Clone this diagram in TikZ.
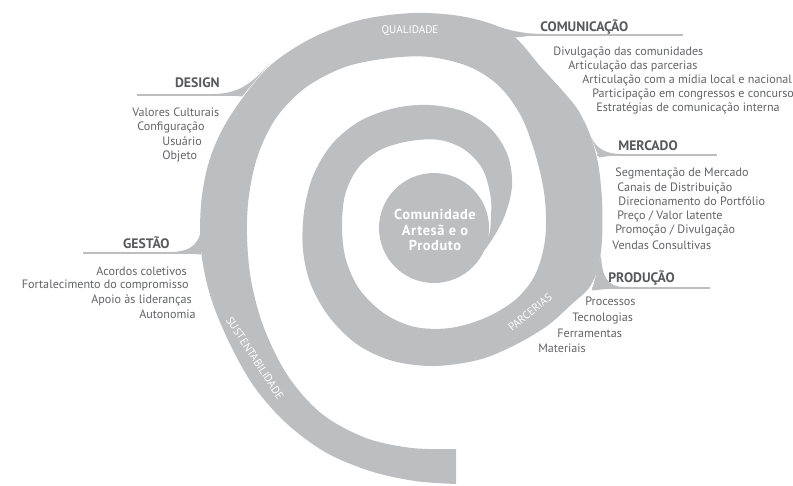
\documentclass[tikz,border=0pt]{standalone}
\usepackage{fontspec}
\setmainfont{PT Sans}
\usetikzlibrary{positioning}
\definecolor{bandgray}{RGB}{189,190,192}
\definecolor{textgray}{RGB}{88,89,91}
\definecolor{itemgray}{RGB}{98,99,101}

\begin{document}
\begin{tikzpicture}[x=0.02cm,y=-0.02cm,
    item/.style={text=itemgray,font=\fontsize{6.9}{8}\selectfont,inner sep=0pt},
    head/.style={text=textgray,font=\fontsize{7.8}{9}\selectfont\bfseries,inner sep=0pt},
    bandtext/.style={text=white,font=\fontsize{6.3}{7}\selectfont,inner sep=0pt},
    bar/.style={bandgray,line width=1.4pt}]

\useasboundingbox (0,0) rectangle (793,485);

% the spiral
\fill [bandgray] (456,484) -- plot [smooth,tension=0.55] coordinates {
    (456,484) (415,481) (370,471) (325,452) (285,422) (253,385) (228,340)
    (210,295) (201,250) (201,205) (208,165) (222,130) (244,96) (272,64)
    (312,38) (360,20) (413,13) (460,16) (497,26) (518,40) (540,66) (561,89)
    (578,110) (590,135) (598,163) (602,200) (602,240) (598,268) (589,288)
    (573,303) (547,326) (513,346) (478,360) (434,366) (393,361) (358,345)
    (330,318) (311,285) (303,250) (304,212) (313,176) (332,144) (360,121)
    (395,108) (430,105) (465,112) (492,130) (508,156) (512,186) (505,215)
    (493,238) (480,256)}
  -- plot [smooth,tension=0.55] coordinates {
    (490,232) (491,200) (483,170) (465,150) (440,140) (410,141) (380,150)
    (358,168) (345,195) (342,228) (346,260) (360,290) (385,314) (415,327)
    (450,328) (485,318) (515,300) (535,275) (545,240) (545,200) (537,160)
    (522,118) (500,87) (470,67) (430,57) (390,58) (345,67) (305,88)
    (276,118) (258,155) (249,195) (247,235) (251,280) (264,328) (288,376)
    (322,414) (366,438) (412,448) (456,449)}
  -- cycle;
\fill [bandgray] (434,228) circle [radius=55];

% little bars and their flares
\draw [bar] (137,95) -- (240,95);
\fill [bandgray] (270,63) .. controls (250,86) and (236,94) .. (212,94) -- (242,96.5) -- cycle;
\draw [bar] (83,253) -- (199,253);
\fill [bandgray] (202,222) .. controls (201,242) and (193,252) .. (170,252) -- (201,254.5) -- cycle;
\draw [bar] (512,35) -- (683,35);
\fill [bandgray] (478,20) .. controls (500,27) and (515,34) .. (545,34) -- (516,37.5) -- cycle;
\draw [bar] (597,155) -- (717,155);
\fill [bandgray] (584,120) .. controls (592,145) and (600,154) .. (622,154) -- (599,157.5) -- cycle;
\draw [bar] (592,288) -- (710,288);
\fill [bandgray] (601,255) .. controls (602,278) and (608,287) .. (625,287) -- (592,290.5) -- cycle;

% words on the band
\node [bandtext] (qualidade) at (410,31) {QUALIDADE};
\node [bandtext,rotate=-57] (sustentabilidade) at (255,358) {SUSTENTABILIDADE};
\node [bandtext,rotate=39] (parcerias) at (530,312) {PARCERIAS};
\node [text=white,font=\fontsize{8.2}{8.6}\selectfont\bfseries\addfontfeatures{LetterSpace=4},
       align=center] (core) at (435,230) {Comunidade\\Artesã e o\\Produto};

% headings
\node [head,anchor=base east] (design) at (220,87) {DESIGN};
\node [head,anchor=base east] (gestao) at (170,248) {GESTÃO};
\node [head,anchor=base west] (comunicacao) at (540,31) {COMUNICAÇÃO};
\node [head,anchor=base west] (mercado) at (618,150) {MERCADO};
\node [head,anchor=base west] (producao) at (608,282) {PRODUÇÃO};

% some text
\node [item,anchor=base west] (des1) at (132,116) {Valores Culturais};
\node [item,anchor=base west] (des2) at (137,130) {Configuração};
\node [item,anchor=base west] (des3) at (162,145) {Usuário};
\node [item,anchor=base west] (des4) at (162,159) {Objeto};

\node [item,anchor=base east] (ges1) at (187,275) {Acordos coletivos};
\node [item,anchor=base east] (ges2) at (189,288) {Fortalecimento do compromisso};
\node [item,anchor=base east] (ges3) at (192,303) {Apoio às lideranças};
\node [item,anchor=base east] (ges4) at (196,318) {Autonomia};

\node [item,anchor=base west] (com1) at (553,55) {Divulgação das comunidades};
\node [item,anchor=base west] (com2) at (568,69) {Articulação das parcerias};
\node [item,anchor=base west] (com3) at (582,83) {Articulação com a mídia local e nacional};
\node [item,anchor=base west] (com4) at (592,97) {Participação em congressos e concurso};
\node [item,anchor=base west] (com5) at (596,111) {Estratégias de comunicação interna};

\node [item,anchor=base west] (mer1) at (615,176) {Segmentação de Mercado};
\node [item,anchor=base west] (mer2) at (617,191) {Canais de Distribuição};
\node [item,anchor=base west] (mer3) at (618,205) {Direcionamento do Portfólio};
\node [item,anchor=base west] (mer4) at (617,219) {Preço / Valor latente};
\node [item,anchor=base west] (mer5) at (615,233) {Promoção / Divulgação};
\node [item,anchor=base west] (mer6) at (612,249) {Vendas Consultivas};

\node [item,anchor=base west] (pro1) at (585,305) {Processos};
\node [item,anchor=base west] (pro2) at (572,321) {Tecnologias};
\node [item,anchor=base west] (pro3) at (557,337) {Ferramentas};
\node [item,anchor=base west] (pro4) at (538,352) {Materiais};

\end{tikzpicture}
\end{document}
